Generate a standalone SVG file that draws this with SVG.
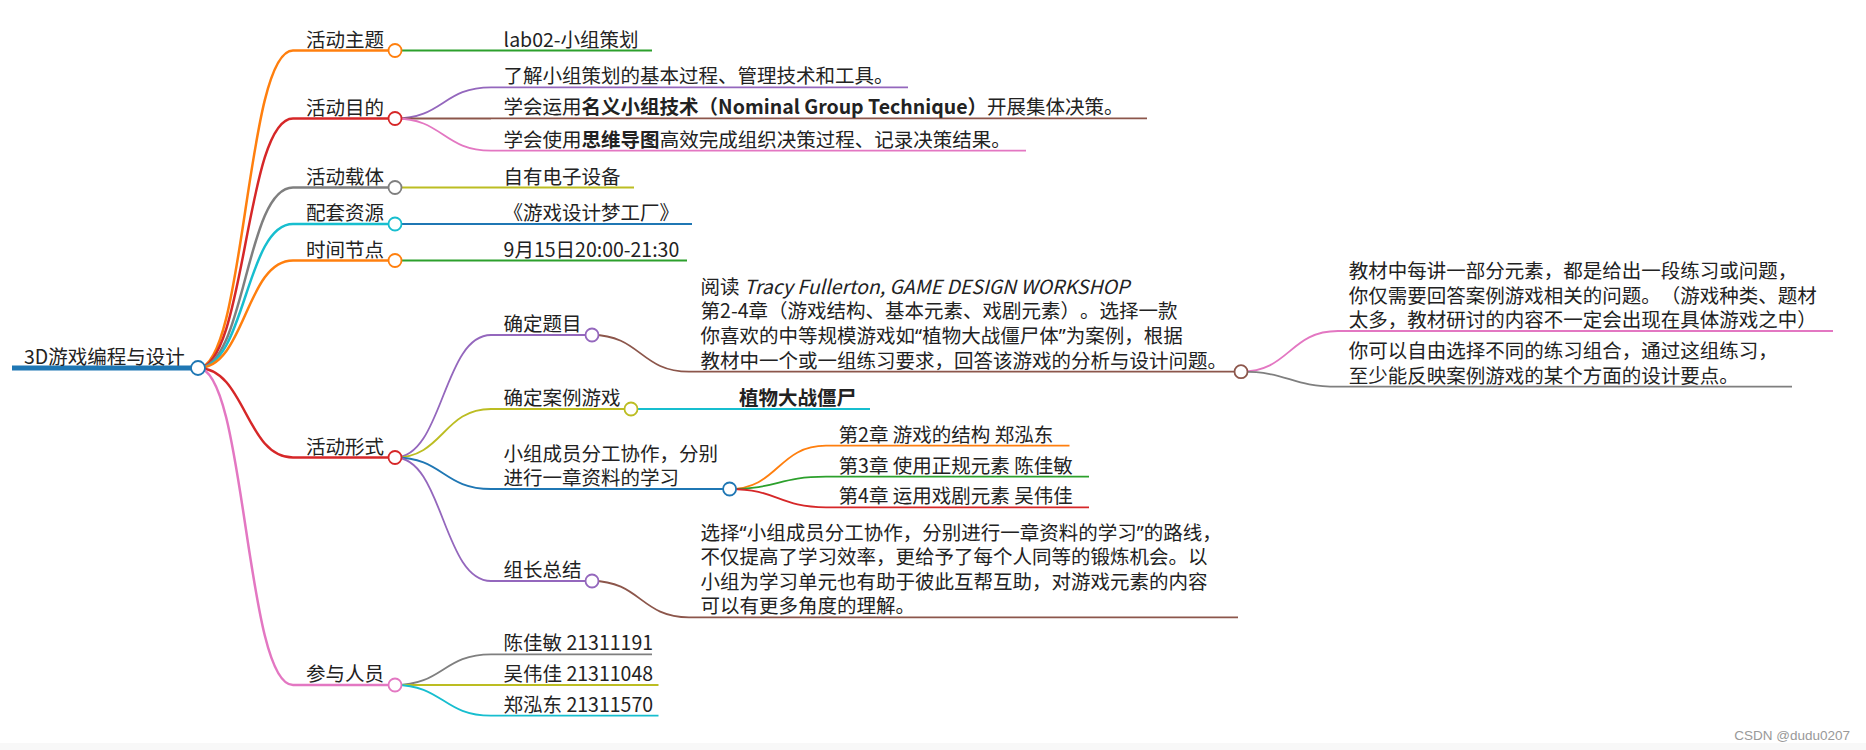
<svg xmlns="http://www.w3.org/2000/svg" width="1866" height="750" viewBox="0 0 1866 750">
<style>
.t{font-family:"Noto Sans CJK SC","Noto Sans",sans-serif;font-size:19.5px;fill:#222;text-spacing-trim:space-all}
.b{font-weight:bold}
.i{font-style:italic}
.q{font-family:"Noto Sans","Liberation Sans",sans-serif}
.lk{fill:none;stroke-width:1.8}
.lk1{fill:none;stroke-width:2.5}
.u{stroke-width:1.8}
.u1{stroke-width:2.5}
.c{fill:#fff;stroke-width:1.8}
.wm{font-family:"Liberation Sans",Arial,sans-serif;font-size:13.5px;fill:#999}
</style>
<rect width="1866" height="750" fill="#fff"/>
<rect x="0" y="743" width="1866" height="7" fill="#f8f8f8"/>
<g id="connectors">
<path class="lk1" stroke="#ff7f0e" d="M198,368 C245.5,368 245.5,50.5 293,50.5"/>
<path class="lk1" stroke="#d62728" d="M198,368 C245.5,368 245.5,118.5 293,118.5"/>
<path class="lk1" stroke="#7f7f7f" d="M198,368 C245.5,368 245.5,187.5 293,187.5"/>
<path class="lk1" stroke="#17becf" d="M198,368 C245.5,368 245.5,224 293,224"/>
<path class="lk1" stroke="#ff7f0e" d="M198,368 C245.5,368 245.5,260.5 293,260.5"/>
<path class="lk1" stroke="#d62728" d="M198,368 C245.5,368 245.5,457.5 293,457.5"/>
<path class="lk1" stroke="#e377c2" d="M198,368 C245.5,368 245.5,685 293,685"/>
<path class="lk" stroke="#2ca02c" d="M395,50.5 H491"/>
<path class="lk" stroke="#9467bd" d="M395,118.5 C443,118.5 443,87.3 491,87.3"/>
<path class="lk" stroke="#8c564b" d="M395,118.5 H491"/>
<path class="lk" stroke="#e377c2" d="M395,118.5 C443,118.5 443,150.7 491,150.7"/>
<path class="lk" stroke="#bcbd22" d="M395,187.5 H491"/>
<path class="lk" stroke="#1f77b4" d="M395,224 H491"/>
<path class="lk" stroke="#2ca02c" d="M395,260.5 H491"/>
<path class="lk" stroke="#9467bd" d="M395,457.5 C443,457.5 443,335 491,335"/>
<path class="lk" stroke="#bcbd22" d="M395,457.5 C443,457.5 443,409 491,409"/>
<path class="lk" stroke="#1f77b4" d="M395,457.5 C443,457.5 443,489 491,489"/>
<path class="lk" stroke="#9467bd" d="M395,457.5 C443,457.5 443,581 491,581"/>
<path class="lk" stroke="#7f7f7f" d="M395,685 C443,685 443,654.3 491,654.3"/>
<path class="lk" stroke="#bcbd22" d="M395,685 H491"/>
<path class="lk" stroke="#17becf" d="M395,685 C443,685 443,715.7 491,715.7"/>
<path class="lk" stroke="#8c564b" d="M592,335 C640.5,335 640.5,371.7 689,371.7"/>
<path class="lk" stroke="#17becf" d="M631,409 H727"/>
<path class="lk" stroke="#ff7f0e" d="M729.6,489 C778,489 778,445.7 826,445.7"/>
<path class="lk" stroke="#2ca02c" d="M729.6,489 C778,489 778,476.7 826,476.7"/>
<path class="lk" stroke="#d62728" d="M729.6,489 C778,489 778,507.3 826,507.3"/>
<path class="lk" stroke="#8c564b" d="M592,581 C640.5,581 640.5,617.3 689,617.3"/>
<path class="lk" stroke="#e377c2" d="M1241,371.7 C1289.5,371.7 1289.5,331 1338,331"/>
<path class="lk" stroke="#7f7f7f" d="M1241,371.7 C1289.5,371.7 1289.5,386.7 1338,386.7"/>
</g>
<g id="root">
<line x1="12" y1="368" x2="198" y2="368" stroke="#1f77b4" stroke-width="5"/>
<text class="t" x="24" y="364">3D游戏编程与设计</text>
<circle class="c" cx="198" cy="368" r="7" stroke="#1f77b4" stroke-width="2.2"/>
</g>
<g id="n-zhuti">
<line class="u1" x1="293" y1="50.5" x2="395" y2="50.5" stroke="#ff7f0e"/>
<text class="t" x="306" y="46.5">活动主题</text>
<circle class="c" cx="395" cy="50.5" r="6.5" stroke="#ff7f0e"/>
</g>
<g id="n-lab02">
<line class="u" x1="491" y1="50.5" x2="652" y2="50.5" stroke="#2ca02c"/>
<text class="t" x="503.6" y="46.5">lab02-小组策划</text>
</g>
<g id="n-mudi">
<line class="u1" x1="293" y1="118.5" x2="395" y2="118.5" stroke="#d62728"/>
<text class="t" x="306" y="114.5">活动目的</text>
<circle class="c" cx="395" cy="118.5" r="6.5" stroke="#d62728"/>
</g>
<g id="n-mudi1">
<line class="u" x1="491" y1="87.3" x2="908" y2="87.3" stroke="#9467bd"/>
<text class="t" x="503.6" y="83.3">了解小组策划的基本过程、管理技术和工具。</text>
</g>
<g id="n-mudi2">
<line class="u" x1="491" y1="118.3" x2="1147" y2="118.3" stroke="#8c564b"/>
<text class="t" x="503.6" y="114.3">学会运用<tspan class="b">名义小组技术（Nominal Group Technique）</tspan>开展集体决策。</text>
</g>
<g id="n-mudi3">
<line class="u" x1="491" y1="150.7" x2="1026" y2="150.7" stroke="#e377c2"/>
<text class="t" x="503.6" y="146.7">学会使用<tspan class="b">思维导图</tspan>高效完成组织决策过程、记录决策结果。</text>
</g>
<g id="n-zaiti">
<line class="u1" x1="293" y1="187.5" x2="395" y2="187.5" stroke="#7f7f7f"/>
<text class="t" x="306" y="183.5">活动载体</text>
<circle class="c" cx="395" cy="187.5" r="6.5" stroke="#7f7f7f"/>
</g>
<g id="n-shebei">
<line class="u" x1="491" y1="187.5" x2="634" y2="187.5" stroke="#bcbd22"/>
<text class="t" x="503.6" y="183.5">自有电子设备</text>
</g>
<g id="n-ziyuan">
<line class="u1" x1="293" y1="224" x2="395" y2="224" stroke="#17becf"/>
<text class="t" x="306" y="220">配套资源</text>
<circle class="c" cx="395" cy="224" r="6.5" stroke="#17becf"/>
</g>
<g id="n-book">
<line class="u" x1="491" y1="224" x2="692" y2="224" stroke="#1f77b4"/>
<text class="t" x="503.6" y="220">《游戏设计梦工厂》</text>
</g>
<g id="n-shijian">
<line class="u1" x1="293" y1="260.5" x2="395" y2="260.5" stroke="#ff7f0e"/>
<text class="t" x="306" y="256.5">时间节点</text>
<circle class="c" cx="395" cy="260.5" r="6.5" stroke="#ff7f0e"/>
</g>
<g id="n-date">
<line class="u" x1="491" y1="260.5" x2="687" y2="260.5" stroke="#2ca02c"/>
<text class="t" x="503.6" y="256.5">9月15日20:00-21:30</text>
</g>
<g id="n-xingshi">
<line class="u1" x1="293" y1="457.5" x2="395" y2="457.5" stroke="#d62728"/>
<text class="t" x="306" y="453.5">活动形式</text>
<circle class="c" cx="395" cy="457.5" r="6.5" stroke="#d62728"/>
</g>
<g id="n-timu">
<line class="u" x1="491" y1="335" x2="592" y2="335" stroke="#9467bd"/>
<text class="t" x="503.6" y="331">确定题目</text>
<circle class="c" cx="592" cy="335" r="6.5" stroke="#9467bd"/>
</g>
<g id="n-yuedu">
<line class="u" x1="689" y1="371.7" x2="1241" y2="371.7" stroke="#8c564b"/>
<text class="t" x="700.6"><tspan x="700.6" y="293.6">阅读 <tspan class="i">Tracy Fullerton, GAME DESIGN WORKSHOP</tspan></tspan><tspan x="700.6" y="318.3">第2-4章（游戏结构、基本元素、戏剧元素）。选择一款</tspan><tspan x="700.6" y="343">你喜欢的中等规模游戏如<tspan class="q">“</tspan>植物大战僵尸体<tspan class="q">”</tspan>为案例，根据</tspan><tspan x="700.6" y="367.7">教材中一个或一组练习要求，回答该游戏的分析与设计问题。</tspan></text>
<circle class="c" cx="1241" cy="371.7" r="6.5" stroke="#8c564b"/>
</g>
<g id="n-jiaocai">
<line class="u" x1="1338" y1="331" x2="1833" y2="331" stroke="#e377c2"/>
<text class="t"><tspan x="1348.7" y="278.4">教材中每讲一部分元素，都是给出一段练习或问题，</tspan><tspan x="1348.7" y="302.7">你仅需要回答案例游戏相关的问题。（游戏种类、题材</tspan><tspan x="1348.7" y="327">太多，教材研讨的内容不一定会出现在具体游戏之中）</tspan></text>
</g>
<g id="n-ziyou">
<line class="u" x1="1338" y1="386.7" x2="1792" y2="386.7" stroke="#7f7f7f"/>
<text class="t"><tspan x="1348.7" y="358.2">你可以自由选择不同的练习组合，通过这组练习，</tspan><tspan x="1348.7" y="382.7">至少能反映案例游戏的某个方面的设计要点。</tspan></text>
</g>
<g id="n-anli">
<line class="u" x1="491" y1="409" x2="631" y2="409" stroke="#bcbd22"/>
<text class="t" x="503.6" y="405">确定案例游戏</text>
<circle class="c" cx="631" cy="409" r="6.5" stroke="#bcbd22"/>
</g>
<g id="n-pvz">
<line class="u" x1="727" y1="409" x2="870" y2="409" stroke="#17becf"/>
<text class="t b" x="739" y="405">植物大战僵尸</text>
</g>
<g id="n-fengong">
<line class="u" x1="491" y1="489" x2="729.6" y2="489" stroke="#1f77b4"/>
<text class="t"><tspan x="503.6" y="460.5">小组成员分工协作，分别</tspan><tspan x="503.6" y="485">进行一章资料的学习</tspan></text>
<circle class="c" cx="729.6" cy="489" r="6.5" stroke="#1f77b4"/>
</g>
<g id="n-ch2">
<line class="u" x1="826" y1="445.7" x2="1069.5" y2="445.7" stroke="#ff7f0e"/>
<text class="t" x="838.6" y="441.7">第2章 游戏的结构 郑泓东</text>
</g>
<g id="n-ch3">
<line class="u" x1="826" y1="476.7" x2="1089" y2="476.7" stroke="#2ca02c"/>
<text class="t" x="838.6" y="472.7">第3章 使用正规元素 陈佳敏</text>
</g>
<g id="n-ch4">
<line class="u" x1="826" y1="507.3" x2="1089" y2="507.3" stroke="#d62728"/>
<text class="t" x="838.6" y="503.3">第4章 运用戏剧元素 吴伟佳</text>
</g>
<g id="n-zongjie">
<line class="u" x1="491" y1="581" x2="592" y2="581" stroke="#9467bd"/>
<text class="t" x="503.6" y="577">组长总结</text>
<circle class="c" cx="592" cy="581" r="6.5" stroke="#9467bd"/>
</g>
<g id="n-zongjie-text">
<line class="u" x1="689" y1="617.3" x2="1238" y2="617.3" stroke="#8c564b"/>
<text class="t"><tspan x="700.6" y="539.8">选择<tspan class="q">“</tspan>小组成员分工协作，分别进行一章资料的学习<tspan class="q">”</tspan>的路线，</tspan><tspan x="700.6" y="564.3">不仅提高了学习效率，更给予了每个人同等的锻炼机会。以</tspan><tspan x="700.6" y="588.8">小组为学习单元也有助于彼此互帮互助，对游戏元素的内容</tspan><tspan x="700.6" y="613.3">可以有更多角度的理解。</tspan></text>
</g>
<g id="n-renyuan">
<line class="u1" x1="293" y1="685" x2="395" y2="685" stroke="#e377c2"/>
<text class="t" x="306" y="681">参与人员</text>
<circle class="c" cx="395" cy="685" r="6.5" stroke="#e377c2"/>
</g>
<g id="n-p1">
<line class="u" x1="491" y1="654.3" x2="652" y2="654.3" stroke="#7f7f7f"/>
<text class="t" x="503.6" y="650.3">陈佳敏 21311191</text>
</g>
<g id="n-p2">
<line class="u" x1="491" y1="685" x2="658.5" y2="685" stroke="#bcbd22"/>
<text class="t" x="503.6" y="681">吴伟佳 21311048</text>
</g>
<g id="n-p3">
<line class="u" x1="491" y1="715.7" x2="658.5" y2="715.7" stroke="#17becf"/>
<text class="t" x="503.6" y="711.7">郑泓东 21311570</text>
</g>
<text class="wm" x="1850" y="740" text-anchor="end">CSDN @dudu0207</text>
</svg>
